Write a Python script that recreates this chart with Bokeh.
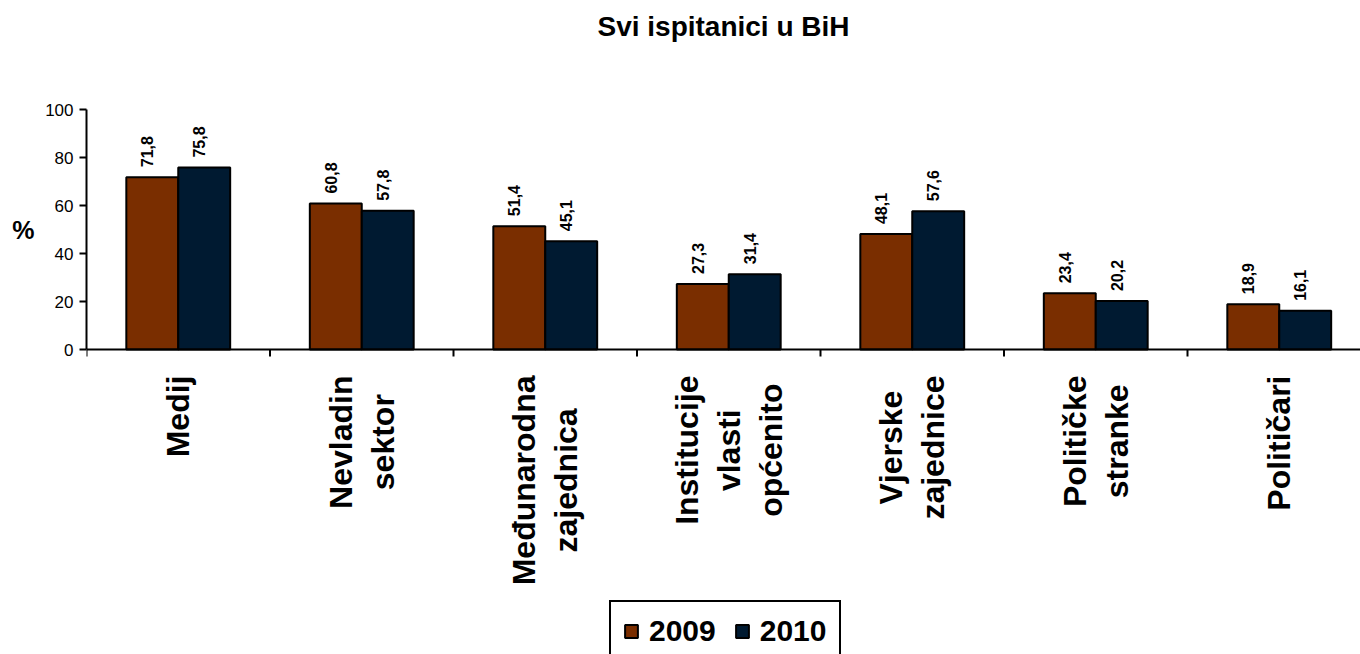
import math
from bokeh.plotting import figure
from bokeh.models import (Range1d, FixedTicker, Legend, LegendItem, LabelSet,
                          ColumnDataSource, Label, LinearAxis, Span)
from bokeh.core.properties import value
from bokeh.embed import file_html
from bokeh.resources import INLINE

# ---- data ----
categories = ["Medij", "Nevladin\nsektor", "Međunarodna\nzajednica",
              "Institucije\nvlasti\nopćenito", "Vjerske\nzajednice",
              "Političke\nstranke", "Političari"]
values_2009 = [71.8, 60.8, 51.4, 27.3, 48.1, 23.4, 18.9]
values_2010 = [75.8, 57.8, 45.1, 31.4, 57.6, 20.2, 16.1]
series_names = ["2009", "2010"]
y_ticks = [0, 20, 40, 60, 80, 100]
title_text = "Svi ispitanici u BiH"
y_label = "%"

# ---- styling ----
FONT = "Liberation Sans"
C2009 = "#7a2e00"
C2010 = "#001a31"
BAR_W = 0.283
CAT_FS = 32          # px, category label font size
CAT_LINE = 42        # px, line spacing of category labels
TICK_PX = 7          # px, x tick length
CAT_GAP = TICK_PX + 19   # px, distance of category labels below the axis
PX_PER_UNIT = 2.4    # vertical px per percent
CAT_PX = 183.5       # horizontal px per category
FRAME_W, FRAME_H = 1274, 654
TOP_PX = 109         # px from top of canvas to the 100 % line
TITLE_PX = 26        # px from top of canvas to the title's middle
Y_MAX = 100

# approximate advance widths (em) of Liberation Sans Bold, for centring lines
ADV = {"M": .833, "N": .722, "I": .278, "V": .667, "P": .667,
       "e": .556, "d": .611, "i": .278, "j": .278, "v": .556, "l": .278,
       "a": .556, "n": .611, "s": .556, "k": .556, "t": .333, "o": .611,
       "r": .389, "đ": .611, "u": .611, "z": .5, "c": .556, "p": .611,
       "ć": .556, "č": .556}

def text_width(s, fs):
    return sum(ADV.get(ch, .556) for ch in s) * fs

n = len(categories)
centers = [i + 0.5 for i in range(n)]
bounds = list(range(n + 1))

def fmt(v):
    return f"{v:.1f}".replace(".", ",")

src09 = ColumnDataSource(dict(x=[c - BAR_W / 2 for c in centers], top=values_2009,
                              lab=[fmt(v) for v in values_2009]))
src10 = ColumnDataSource(dict(x=[c + BAR_W / 2 for c in centers], top=values_2010,
                              lab=[fmt(v) for v in values_2010]))

x_end = FRAME_W / CAT_PX
y_top = Y_MAX + TOP_PX / PX_PER_UNIT
y_min = y_top - FRAME_H / PX_PER_UNIT
p = figure(frame_width=FRAME_W, frame_height=FRAME_H, output_backend="svg",
           toolbar_location=None, x_axis_location=None,
           x_range=Range1d(0, x_end), y_range=Range1d(y_min, y_top),
           min_border_left=86, min_border_right=0,
           min_border_top=0, min_border_bottom=0)

p.outline_line_color = None
p.xgrid.visible = False
p.ygrid.visible = False
p.background_fill_color = "white"
p.border_fill_color = "white"

# chart title
p.add_layout(Label(x=x_end / 2, y=Y_MAX + (TOP_PX - TITLE_PX) / PX_PER_UNIT,
                   text=title_text, text_align="center", text_baseline="middle",
                   text_font=FONT, text_font_size="28px", text_font_style="bold",
                   text_color="black"))

r1 = p.vbar(x="x", top="top", width=BAR_W, bottom=0, source=src09,
            fill_color=C2009, line_color="black", line_width=2)
r2 = p.vbar(x="x", top="top", width=BAR_W, bottom=0, source=src10,
            fill_color=C2010, line_color="black", line_width=2)

for s in (src09, src10):
    p.add_layout(LabelSet(x="x", y="top", text="lab", source=s, angle=math.pi / 2,
                          text_align="left", text_baseline="middle",
                          x_offset=-5, y_offset=10, text_font=value(FONT),
                          text_font_size=value("16px"), text_font_style="bold",
                          text_color="black"))

# x axis line at 0 with category boundary ticks
p.add_layout(Span(location=0, dimension="width", line_color="black", line_width=2))
p.segment(x0=bounds, y0=[0] * len(bounds), x1=bounds,
          y1=[-TICK_PX / PX_PER_UNIT] * len(bounds), line_color="black", line_width=2)

for c, cat in zip(centers, categories):
    lines = cat.split("\n")
    k = len(lines)
    block = max(text_width(ln, CAT_FS) for ln in lines)
    for j, ln in enumerate(lines):
        p.add_layout(Label(x=c, y=0, text=ln, angle=math.pi / 2,
                           x_offset=(j - (k - 1) / 2) * CAT_LINE,
                           y_offset=-(CAT_GAP + block / 2),
                           text_align="center", text_baseline="middle",
                           text_font=FONT, text_font_size=f"{CAT_FS}px",
                           text_font_style="bold", text_color="black"))

# y axis
ya = p.yaxis[0]
ya.bounds = (0, Y_MAX)
ya.ticker = FixedTicker(ticks=y_ticks)
ya.major_tick_out = 7
ya.major_tick_in = 0
ya.minor_tick_line_color = None
ya.major_tick_line_color = "black"
ya.major_tick_line_width = 2
ya.axis_line_color = "black"
ya.axis_line_width = 2
ya.major_label_text_font = FONT
ya.major_label_text_font_size = "17px"
ya.major_label_text_color = "black"
ya.major_label_standoff = 6

# "%" title of the value axis, placed beside the middle of the 0-100 scale
ya2 = LinearAxis(ticker=FixedTicker(ticks=[Y_MAX / 2]),
                 major_label_overrides={Y_MAX / 2: y_label})
ya2.axis_line_color = None
ya2.major_tick_line_color = None
ya2.minor_tick_line_color = None
ya2.major_tick_out = 0
ya2.major_label_standoff = 8
ya2.major_label_text_font = FONT
ya2.major_label_text_font_size = "25px"
ya2.major_label_text_font_style = "bold"
ya2.major_label_text_color = "black"
p.add_layout(ya2, "left")

legend = Legend(items=[LegendItem(label=series_names[0], renderers=[r1]),
                       LegendItem(label=series_names[1], renderers=[r2])],
                orientation="horizontal", location=(523, -8),
                glyph_width=16, glyph_height=16, label_standoff=10, spacing=18,
                padding=12, margin=0,
                label_text_font=FONT, label_text_font_size="30px",
                label_text_font_style="bold", label_text_color="black",
                border_line_color="black", border_line_width=2,
                border_line_alpha=1.0,
                background_fill_color="white", background_fill_alpha=1)
p.add_layout(legend, "center")

open("out.html", "w").write(file_html(p, INLINE))
